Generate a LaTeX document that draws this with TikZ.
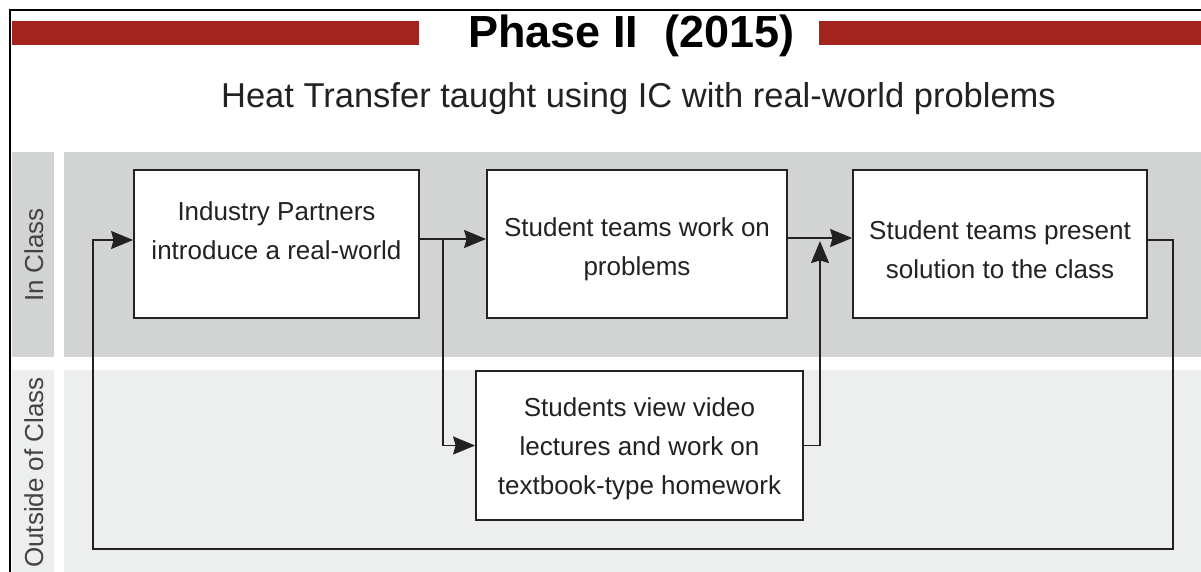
\documentclass[tikz,border=0pt]{standalone}
\usepackage{fontspec}
\setmainfont{Liberation Sans}
\usetikzlibrary{arrows.meta}
\definecolor{barred}{HTML}{A3231F}
\definecolor{bandD}{HTML}{D2D3D3}
\definecolor{bandL}{HTML}{EDEEEE}
\definecolor{ink}{HTML}{222222}
\newcommand{\toppad}{\rule{0pt}{30pt}}
\begin{document}
\begin{tikzpicture}[x=1pt,y=-1pt,
  box/.style={draw=ink, line width=1.8pt, fill=white, minimum width=#1, minimum height=148pt,
              inner sep=0pt, align=center, font=\fontsize{26}{39}\selectfont, text=ink},
  conn/.style={line width=1.8pt, draw=ink},
  arr/.style={conn, -{Stealth[length=22pt,width=18pt,inset=2.5pt]}},
  lane/.style={rotate=90, anchor=base, font=\fontsize{26}{30}\selectfont, text=ink!85}]
\useasboundingbox (0,0) rectangle (1201,572);
% bands
\fill[bandD] (12,152) rectangle (54,357);
\fill[bandD] (64,152) rectangle (1201,357);
\fill[bandL] (12,370) rectangle (54,572);
\fill[bandL] (64,370) rectangle (1201,572);
% red bars
\fill[barred] (12,21) rectangle (419,45);
\fill[barred] (819,21) rectangle (1201,45);
% frame
\draw[line width=2.5pt, draw=black] (10,572) -- (10,10) -- (1201,10);
% titles
\node[anchor=base, font=\bfseries\fontsize{45}{50}\selectfont, text=black, inner sep=0pt] (title) at (631.5,48) {Phase II\hspace{26pt}(2015)};
\node[anchor=base, font=\fontsize{34.5}{40}\selectfont, text=ink, inner sep=0pt] (subtitle) at (638.5,108) {Heat Transfer taught using IC with real-world problems};
% lane labels
\node[lane] (inclass) at (43,255) {In Class};
\node[lane] (outclass) at (43,472.5) {Outside of Class};
% boxes
\node[box=285pt] (b1) at (276.5,244) {\toppad Industry Partners\\introduce a real-world\\\mbox{}};
\node[box=300pt] (b2) at (637,244) {\toppad Student teams work on\\problems};
\node[box=294pt] (b3) at (1000,244) {\toppad Student teams present\\solution to the class};
\node[box=327pt, minimum height=149pt] (b4) at (639.5,445.5) {\rule{0pt}{26pt}Students view video\\lectures and work on\\textbook-type homework};
% helper coordinates
\coordinate (s) at (443,239);
\coordinate (m) at (820,238);
\coordinate (mt) at (820,241);
\coordinate (r) at (1173,240);
\coordinate (l) at (93,549);
\coordinate (lt) at (93,240);
% connectors
\draw[arr] (b1.east |- s) -- (b2.west |- s);
\draw[arr] (s) |- (b4.west);
\draw[arr] (b2.east |- m) -- (b3.west |- m);
\draw[arr] (b4.east) -| (mt);
\draw[arr] (b3.east |- r) -- (r) |- (l) |- (b1.west |- lt);
\end{tikzpicture}
\end{document}
